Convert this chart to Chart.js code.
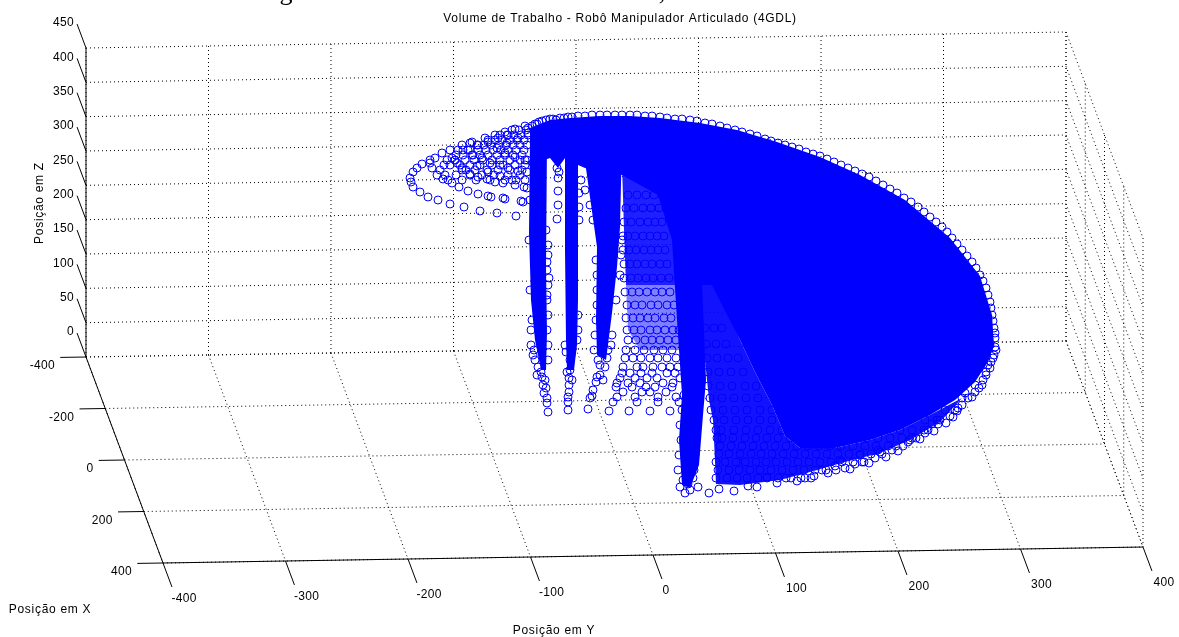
<!DOCTYPE html>
<html>
<head>
<meta charset="utf-8">
<title>Volume de Trabalho</title>
<script src="https://cdn.jsdelivr.net/npm/chart.js@4"></script>
<style>
  html, body { margin: 0; padding: 0; background: #fff; }
  canvas { display: block; }
</style>
</head>
<body>
<canvas id="graphic" width="1179" height="637"></canvas>
<script>
// axis ticks of the 3D box
const xTicks = [-400, -200, 0, 200, 400];
const yTicks = [-400, -300, -200, -100, 0, 100, 200, 300, 400];
const zTicks = [0, 50, 100, 150, 200, 250, 300, 350, 400, 450];

// the markers are read off the picture, so they are stored as values on the
// projected plane of the view (horizontal, vertical), not as x/y/z
const tailH = [516,497,480,464,450,438,428,420,413,411,410,413,417,422,430,442,450,462,472,485,495,505,515,525,537,
  523,521,505,503,491,488,478,468,459,452,443,437,432,430,435,
  527,524,515,503,495,487,478,470,462,457,452,458,470,
  527,518,508,500,490,482,473,468,478,488,498,508,
  533,525,515,505,497,507,518,528,444,455,466,477,488,500,512];
const tailV = [216,213,211,207,204,200,197,192,187,182,178,172,168,164,160,153,150,145,142,138,135,132,129,126,124,
  202,201,199,198,197,196,194,191,187,183,179,175,168,163,158,
  188,187,185,183,182,179,177,174,168,163,158,150,143,
  172,171,168,165,163,158,155,150,145,142,138,135,
  163,160,157,153,148,143,138,133,165,160,170,166,172,176,180];
const tailRowV = [130,135,140,145,150,155,160,165,170,175,180];
const tailRowH = [
  [512,519,526],
  [500,507,514,521,528],
  [488,495,502,510,517,524],
  [477,484,491,499,506,513,520,527],
  [463,470,478,486,493,501,508,516,524],
  [456,463,472,480,488,497,505,513,522],
  [447,455,465,474,483,492,500,510,520,527],
  [450,460,470,480,492,503,515,525],
  [440,462,475,487,498,510,522],
  [445,456,470,482,494,508,520],
  [448,462,476,490,505,516,525]
];

const gapH = [558,558,558,557,579,579,557,559,546,548,547,549,547,579,581];
const gapV = [178,191,205,219,207,220,168,172,230,245,262,278,295,193,180];

const spireH = [548,547,547,544,542,543,538,541,545,546,548,548,547,548,547,548,547,548,531,530,531,533,535,536,529,530,532,534,537,
  568,568,568,569,569,569,570,570,571,565,577,578,578,566,567,572,
  588,590,592,593,596,597,600,605,600,594,608,595,596,597,597,597,596,612,616,620,621,622,590,593,585,603,598,607,611];
const spireV = [412,403,398,393,377,385,367,372,380,388,360,345,330,315,300,285,270,255,330,290,345,355,360,300,240,200,320,350,375,
  410,402,397,392,385,378,370,360,355,345,340,330,315,352,372,380,
  409,398,396,390,382,377,375,367,365,350,350,335,320,305,290,275,260,335,300,275,255,240,205,220,190,380,360,358,345];

const fanRowV = [411,402,397,392,387,383,378,373,367,358,350,340,330,318,305,292,278,264,250,236,222,208,195];
const fanRowH = [
  [609,629,650,670],
  [613,637,658,679],
  [617,635,658,676],
  [623,642,650,666],
  [616,632,646,655,672],
  [617,628,640,663,673],
  [620,635,647,657,680],
  [622,630,641,652,667,675],
  [623,637,643,653,662,670,678],
  [625,633,641,650,658,667,676],
  [626,635,644,654,663,672],
  [628,636,645,652,660,668,676],
  [627,634,641,650,657,665,673,679],
  [626,633,640,648,655,664,671],
  [627,635,642,651,658,667,674],
  [625,632,639,647,655,662,670],
  [624,631,638,646,653,661,669],
  [624,630,637,645,652,660,667],
  [623,629,636,644,651,658,665],
  [623,628,635,643,650,657,664],
  [624,631,640,648,655,662],
  [626,634,643,651,659,666],
  [628,637,646,654,662]
];

const rimH = [528,535,542,550,556,564,572,585,600,615,630,645,660,675,690,705,720,735,750,765,778,792,806,820,834,848,862,876,890,904,918,930,942,952,962,972,980,986,990,992,994,
  532,539,546,553,560,568,578,592,607,622,637,652,667,682,697,712,727,742,757,771,785,799,813,827,841,855,869,883,897,911,924,936,947,957,967,976,983,988,991,993,995,
  995,995,994,991,988,986,983,979,975,972,965,958,953,946,940,934,928,920,910,898,886,878,869,860,850,840,828,
  814,805,797,786,777,767,757,748,734,719,709,698,690,685,680,683,688,693,
  678,679,681,680,682,684,694,695,696,695,696,
  822,835,845,855,862,875,880,892,903,908,916,925,932,938,950,957,962,968,975,982,986,990,993,996,990];
const rimV = [128,124,121,119,120,118,117,116,115,115,115,116,117,119,120,123,126,130,134,139,143,147,152,156,162,168,174,181,189,198,207,217,227,238,250,262,275,288,302,315,328,
  126,122,120,119,118,117,116,115,115,115,115,116,118,119,121,124,128,132,136,141,145,149,154,159,165,171,177,185,193,202,212,222,232,244,256,268,281,295,308,321,333,
  338,347,355,362,365,372,380,388,385,397,393,408,417,423,420,431,430,439,440,451,457,450,463,455,469,460,473,
  476,478,481,478,483,477,487,486,491,489,493,487,490,493,487,480,484,478,
  470,455,440,425,410,395,470,455,440,425,410,
  470,466,468,464,462,458,452,450,446,442,438,433,424,424,416,411,405,398,392,385,375,368,358,350,345];

const lowerRowV = [478,470,462,454,446,438,430,420,410,398,386,372,358,344,328];
const lowerRowH = [
  [716,727,737,747,758,767,778,791,801,811],
  [718,729,739,750,760,771,782,793,804,815,826,836],
  [716,725,736,745,756,766,776,787,798,809,820,831,842,853,864],
  [719,729,740,751,761,772,783,794,805,816,827,838,849,860,871,882],
  [720,731,742,753,764,775,786,797,808,819,830,841,853,865,876,888,896],
  [717,722,733,745,756,767,778,790,802,866,878,890,902,912],
  [716,721,734,746,758,770,782,794,900,912,924],
  [714,724,736,748,760,772,784,925,937],
  [711,723,735,747,760,772,945,955],
  [710,722,734,746,758,962],
  [708,720,732,745,756],
  [708,719,731,743],
  [707,717,728,738],
  [706,716,726],
  [705,714,722]
];

// outlines of the parts where the circles overlap into solid blue
const coreH = [530,550,570,600,630,660,700,737,777,820,860,905,950,980,992,994,988,975,955,930,900,870,835,800,785,772,755,740,722,712,702,704,706,703,699,690,682,679,682,677,672,658,622,600,585,578,565,558,550,530];
const coreV = [128,120,118,116,116,118,123,130,142,157,175,200,238,276,315,345,362,382,400,415,430,440,448,448,436,405,372,340,305,285,285,330,380,415,465,488,485,440,395,320,240,195,175,172,168,165,158,168,158,165];
const lowerH = [701,712,722,740,755,772,785,800,835,870,900,930,962,940,910,880,845,810,780,740,716,714,713,709,703];
const lowerV = [278,278,300,340,372,405,436,448,448,440,430,415,398,422,440,453,462,472,480,485,484,440,420,400,340];
const fanH = [622,672,676,626,624];
const fanV = [165,165,285,285,230];
const fanLowH = [626,676,681,640,628];
const fanLowV = [285,285,350,350,330];
const spire1H = [530,547,546,547,546,541,535,531,529];
const spire1V = [140,140,267,333,370,370,340,300,233];
const spire2H = [565,578,578,577,574,567,566,565];
const spire2V = [140,140,300,345,370,370,340,250];
const spire3H = [582,622,620,617,612,606,597,596,597];
const spire3V = [140,140,227,267,313,360,355,320,247];

// picture of the axes box: where the corners of the 3D box land on the view plane
function project(x, y, z) {
  const a = (x + 400) / 800, b = (y + 400) / 800;
  return { x: 86 + a * 77 + b * 980, y: 357 + a * 206 - b * 16 - z / 450 * 309 };
}

function zip(h, v) { return h.map((n, i) => ({ x: n, y: v[i] })); }
function rows(rowH, rowV) {
  const out = [];
  rowH.forEach((r, i) => r.forEach(n => out.push({ x: n, y: rowV[i] })));
  return out;
}
function lineSet(a, b, solid) {
  return { data: [project(...a), project(...b)], showLine: true, pointRadius: 0, order: solid ? 9 : 10,
    borderColor: '#000', borderWidth: 1, borderDash: solid ? [] : [1, 3] };
}
function fillSet(h, v, color) {
  return { data: zip(h, v), showLine: true, fill: 'shape', backgroundColor: color, borderWidth: 0,
    borderColor: color, pointRadius: 0, order: 5 };
}
function circleSet(points) {
  return { data: points, pointRadius: 4, pointBorderWidth: 1, pointBorderColor: '#0000ff',
    pointBackgroundColor: 'transparent', showLine: false, order: 1 };
}

const datasets = [];
// dotted grid on the back wall, the right wall and the floor
zTicks.forEach(z => {
  datasets.push(lineSet([-400, -400, z], [-400, 400, z]));
  datasets.push(lineSet([-400, 400, z], [400, 400, z]));
});
yTicks.forEach(y => {
  datasets.push(lineSet([-400, y, 0], [-400, y, 450]));
  datasets.push(lineSet([-400, y, 0], [400, y, 0]));
});
xTicks.forEach(x => {
  datasets.push(lineSet([x, 400, 0], [x, 400, 450]));
  datasets.push(lineSet([x, -400, 0], [x, 400, 0]));
});
// solid axes and tick marks
datasets.push(lineSet([-400, -400, 0], [-400, -400, 450], true));
datasets.push(lineSet([-400, -400, 0], [400, -400, 0], true));
datasets.push(lineSet([400, -400, 0], [400, 400, 0], true));
zTicks.forEach(z => datasets.push(lineSet([-400, -400, z], [-493, -400, z], true)));
yTicks.forEach(y => datasets.push(lineSet([400, y, 0], [493, y, 0], true)));
xTicks.forEach(x => datasets.push(lineSet([x, -400, 0], [x, -421, 0], true)));
// the point cloud
datasets.push(fillSet(lowerH, lowerV, 'rgba(0,0,255,0.93)'));
datasets.push(fillSet(fanH, fanV, 'rgba(0,0,255,0.88)'));
datasets.push(fillSet(fanLowH, fanLowV, 'rgba(0,0,255,0.5)'));
datasets.push(fillSet(coreH, coreV, '#0000ff'));
datasets.push(fillSet(spire1H, spire1V, '#0000ff'));
datasets.push(fillSet(spire2H, spire2V, '#0000ff'));
datasets.push(fillSet(spire3H, spire3V, '#0000ff'));
datasets.push(circleSet(zip(tailH, tailV)));
datasets.push(circleSet(rows(tailRowH, tailRowV)));
datasets.push(circleSet(zip(gapH, gapV)));
datasets.push(circleSet(zip(spireH, spireV)));
datasets.push(circleSet(rows(fanRowH, fanRowV)));
datasets.push(circleSet(zip(rimH, rimV)));
datasets.push(circleSet(rows(lowerRowH, lowerRowV)));

// tick labels and axis names sit off the box, so they are written by a small plugin
const boxText = {
  id: 'boxText',
  afterDraw(chart) {
    const ctx = chart.ctx, sx = chart.scales.x, sy = chart.scales.y;
    const put = (text, h, v, align) => {
      ctx.textAlign = align;
      ctx.fillText(text, sx.getPixelForValue(h), sy.getPixelForValue(v));
    };
    ctx.save();
    ctx.fillStyle = '#000';
    ctx.textBaseline = 'middle';
    ctx.font = '12px "Liberation Sans"';
    ctx.letterSpacing = '0.3px';
    zTicks.forEach(z => { const p = project(-400, -400, z); put(String(z), p.x - 12, p.y - 25, 'right'); });
    xTicks.forEach(x => { const p = project(x, -400, 0); put(String(x), p.x - 31, p.y + 9, 'right'); });
    yTicks.forEach(y => { const p = project(400, y, 0); put(String(y), p.x + (y === 0 ? 13 : 21), p.y + 36, 'center'); });
    ctx.letterSpacing = '0.7px';
    put('Posição em X', 50, 610, 'center');
    put('Posição em Y', 554, 631, 'center');
    put('Volume de Trabalho - Robô Manipulador Articulado (4GDL)', 620, 19, 'center');
    ctx.save();
    ctx.translate(sx.getPixelForValue(40), sy.getPixelForValue(203));
    ctx.rotate(-Math.PI / 2);
    ctx.textAlign = 'center';
    ctx.fillText('Posição em Z', 0, 0);
    ctx.restore();
    // bottom of the caption line above the figure, cut by the page edge
    ctx.letterSpacing = '0px';
    ctx.textBaseline = 'alphabetic';
    ctx.font = '26px "Liberation Serif"';
    put('g', 286, 0, 'center');
    put(',', 662, 0, 'center');
    ctx.restore();
  }
};

new Chart(document.getElementById('graphic'), {
  type: 'scatter',
  data: { datasets: datasets },
  options: {
    responsive: false,
    animation: false,
    layout: { padding: 0, autoPadding: false },
    plugins: { legend: { display: false }, title: { display: false }, tooltip: { enabled: false } },
    scales: {
      x: { type: 'linear', min: 0, max: 1179, display: false },
      y: { type: 'linear', min: 0, max: 637, reverse: true, display: false }
    }
  },
  plugins: [boxText]
});
</script>
</body>
</html>
